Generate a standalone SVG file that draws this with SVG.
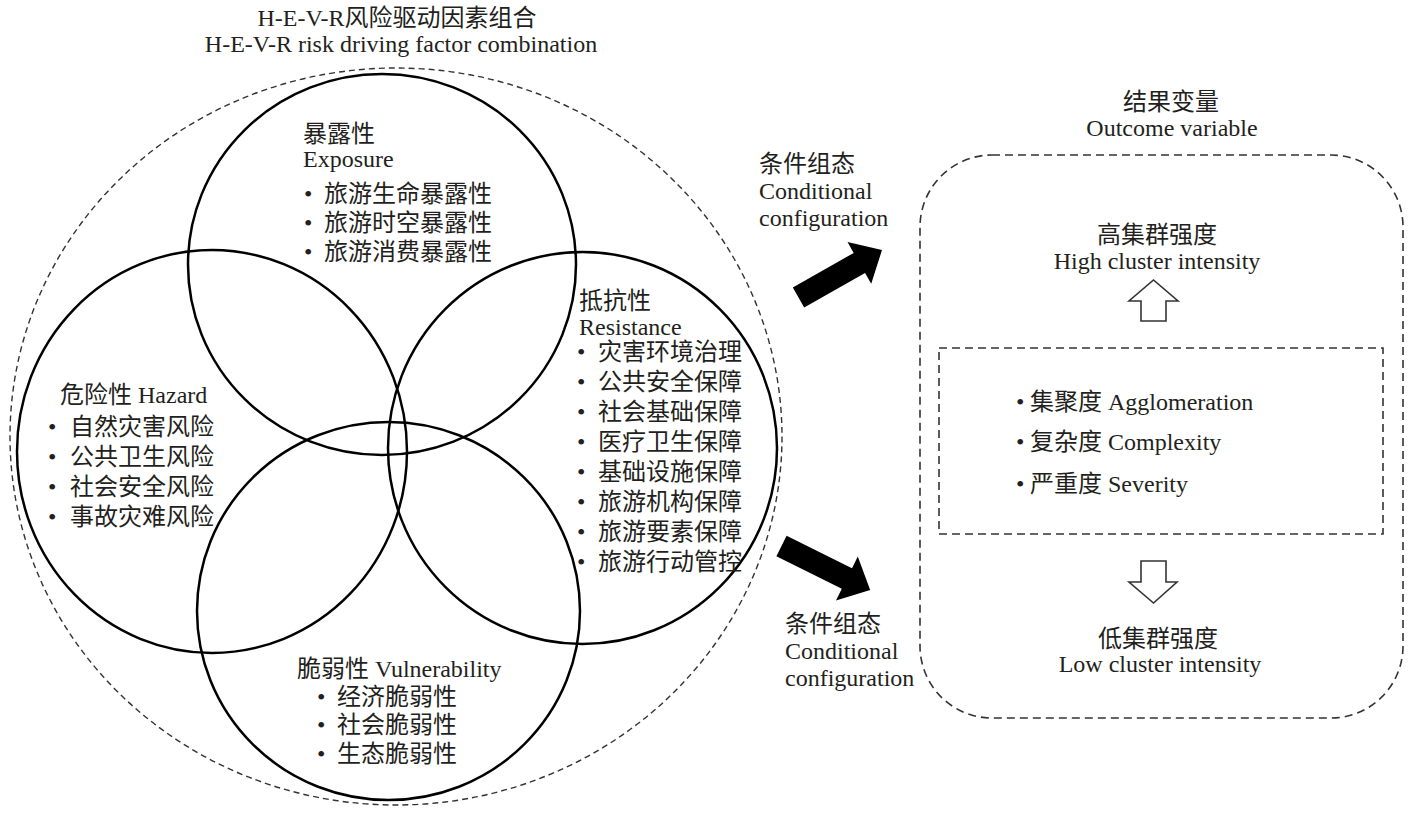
<svg xmlns="http://www.w3.org/2000/svg" width="1416" height="813" viewBox="0 0 1416 813">
<style>
text{font-family:"Liberation Serif","Noto Sans CJK SC",serif;font-size:24px;fill:#231f20}
.c{text-anchor:middle}
.circ{fill:none;stroke:#000;stroke-width:2.5}
.dash{fill:none;stroke:#333;stroke-width:1.4;stroke-dasharray:6 4}
.dash2{fill:none;stroke:#333;stroke-width:1.6;stroke-dasharray:8 5}
.hollow{fill:#fff;stroke:#333;stroke-width:1.6}
.solid{fill:#000}
</style>
<rect width="1416" height="813" fill="#fff"/>
<g id="combination">
<ellipse class="dash" cx="396" cy="436.5" rx="386" ry="368.5"/>
<text class="c" x="397" y="26">H-E-V-R风险驱动因素组合</text>
<text class="c" x="401" y="52">H-E-V-R risk driving factor combination</text>
</g>
<g id="exposure">
<ellipse class="circ" cx="382" cy="264.5" rx="194" ry="190.5"/>
<text x="303" y="142">暴露性</text>
<text x="303" y="167">Exposure</text>
<text x="304" y="202">•<tspan x="324">旅游生命暴露性</tspan></text>
<text x="304" y="231">•<tspan x="324">旅游时空暴露性</tspan></text>
<text x="304" y="260">•<tspan x="324">旅游消费暴露性</tspan></text>
</g>
<g id="hazard">
<ellipse class="circ" cx="212" cy="451.5" rx="195" ry="201.5"/>
<text x="60" y="403">危险性 Hazard</text>
<text x="48" y="435">•<tspan x="70">自然灾害风险</tspan></text>
<text x="48" y="465">•<tspan x="70">公共卫生风险</tspan></text>
<text x="48" y="495">•<tspan x="70">社会安全风险</tspan></text>
<text x="48" y="525">•<tspan x="70">事故灾难风险</tspan></text>
</g>
<g id="vulnerability">
<ellipse class="circ" cx="388.5" cy="611" rx="191.5" ry="189"/>
<text x="297" y="677">脆弱性 Vulnerability</text>
<text x="317" y="705">•<tspan x="337">经济脆弱性</tspan></text>
<text x="317" y="733">•<tspan x="337">社会脆弱性</tspan></text>
<text x="317" y="762">•<tspan x="337">生态脆弱性</tspan></text>
</g>
<g id="resistance">
<ellipse class="circ" cx="582.5" cy="448" rx="194.5" ry="196"/>
<text x="579" y="309">抵抗性</text>
<text x="579" y="335">Resistance</text>
<text x="577" y="360">•<tspan x="598">灾害环境治理</tspan></text>
<text x="577" y="390">•<tspan x="598">公共安全保障</tspan></text>
<text x="577" y="420">•<tspan x="598">社会基础保障</tspan></text>
<text x="577" y="450">•<tspan x="598">医疗卫生保障</tspan></text>
<text x="577" y="480">•<tspan x="598">基础设施保障</tspan></text>
<text x="577" y="510">•<tspan x="598">旅游机构保障</tspan></text>
<text x="577" y="540">•<tspan x="598">旅游要素保障</tspan></text>
<text x="577" y="570">•<tspan x="598">旅游行动管控</tspan></text>
</g>
<g id="outcome">
<rect class="dash2" x="920" y="155" width="483" height="563" rx="72" ry="72"/>
<text class="c" x="1171" y="110">结果变量</text>
<text class="c" x="1172" y="136">Outcome variable</text>
</g>
<g id="high">
<text class="c" x="1157" y="243">高集群强度</text>
<text class="c" x="1157" y="269">High cluster intensity</text>
</g>
<g id="indicators">
<rect class="dash2" x="939" y="348" width="444" height="186"/>
<text x="1016" y="410">•<tspan x="1030">集聚度 Agglomeration</tspan></text>
<text x="1016" y="450">•<tspan x="1030">复杂度 Complexity</tspan></text>
<text x="1016" y="492">•<tspan x="1030">严重度 Severity</tspan></text>
</g>
<g id="low">
<text class="c" x="1158" y="647">低集群强度</text>
<text class="c" x="1160" y="672">Low cluster intensity</text>
</g>
<g id="connectors">
<polygon class="solid" transform="translate(798.5,297.5) rotate(-29.6)" points="0,-11.5 70,-11.5 70,-24 96,0 70,24 70,11.5 0,11.5"/>
<polygon class="solid" transform="translate(781.5,546) rotate(26.4)" points="0,-11.5 73,-11.5 73,-24.5 99,0 73,24.5 73,11.5 0,11.5"/>
<polygon class="hollow" points="1141,321 1141,301 1129,301 1153.5,280 1178,301 1166,301 1166,321"/>
<polygon class="hollow" points="1141,561 1166,561 1166,582 1177,582 1153.5,603 1129,582 1141,582"/>
<text x="759" y="172">条件组态</text>
<text x="759" y="199">Conditional</text>
<text x="759" y="226">configuration</text>
<text x="785" y="632">条件组态</text>
<text x="785" y="659">Conditional</text>
<text x="785" y="686">configuration</text>
</g>
</svg>
